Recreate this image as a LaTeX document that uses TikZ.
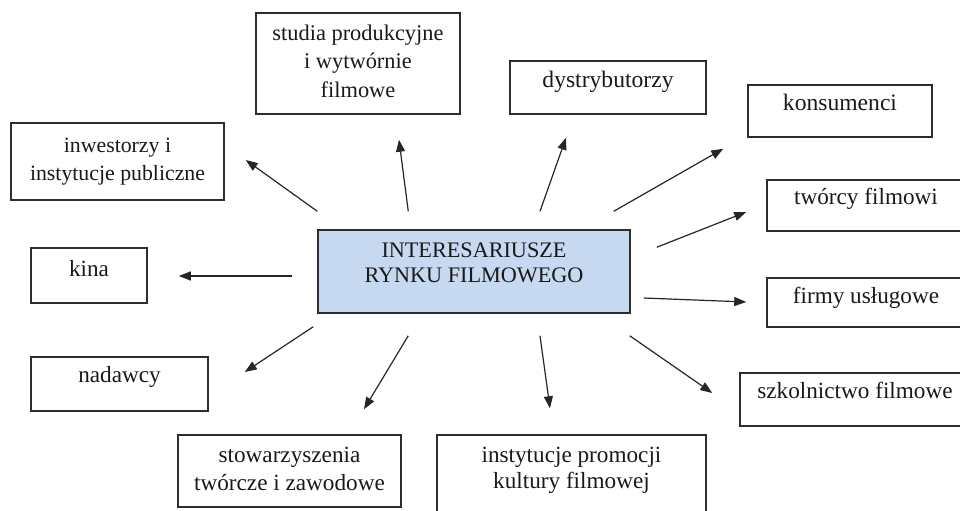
\documentclass[tikz,border=0pt]{standalone}
\usepackage{fontspec}
\setmainfont{Liberation Serif}
\usepackage{tikz}
\usetikzlibrary{positioning}
\usetikzlibrary{arrows.meta}
\usepackage{xcolor}
\definecolor{hubblue}{RGB}{198,217,241}
\definecolor{boxline}{RGB}{45,45,45}

\begin{document}
\begin{tikzpicture}[on grid, >={Triangle[length=6pt,width=4.5pt]},
        every node/.style={font=\fontsize{11.6}{14}\selectfont, text=black!90},
        actor/.style={draw=boxline, line width=0.75pt, align=center, inner sep=0pt},
        link/.style={line width=0.6pt, black!85}]

        \useasboundingbox (0,0) rectangle (480pt,-255pt);
        \clip (0,0) rectangle (480pt,-255pt);

        \node[actor, fill=hubblue, minimum width=156pt, text height=26pt, text depth=15.5pt,
              font=\fontsize{11.1}{12.5}\selectfont] (hub) at (237pt,-135.75pt) {INTERESARIUSZE\\RYNKU FILMOWEGO};

        \node[actor, minimum width=102pt, text height=42pt, text depth=8.5pt, font=\fontsize{11.2}{14.25}\selectfont]
          (studia) [above left=104pt and 58pt of hub] {studia produkcyjne\\i wytwórnie\\filmowe};
        \node[actor, minimum width=98pt, text height=13pt, text depth=13.5pt, font=\fontsize{11.8}{14}\selectfont]
          (dystr) [above right=92pt and 67pt of hub] {dystrybutorzy};
        \node[actor, minimum width=92pt, text height=12.5pt, text depth=13.5pt, font=\fontsize{11.8}{14}\selectfont]
          (konsumenci) [above right=80.25pt and 183pt of hub] {konsumenci};
        \node[actor, minimum width=106.5pt, text height=28.5pt, text depth=10pt, font=\fontsize{10.9}{14}\selectfont]
          (inwestorzy) [above left=55pt and 178.25pt of hub] {inwestorzy i\\instytucje publiczne};
        \node[actor, minimum width=99pt, text height=12pt, text depth=13.5pt]
          (tworcy) [above right=33pt and 196pt of hub] {twórcy filmowi};
        \node[actor, minimum width=58pt, text height=14pt, text depth=13.5pt]
          (kina) [below left=2pt and 192.5pt of hub] {kina};
        \node[actor, minimum width=99pt, text height=12.5pt, text depth=12pt]
          (firmy) [below right=15.5pt and 196pt of hub] {firmy usługowe};
        \node[actor, minimum width=88.5pt, text height=12.5pt, text depth=14.5pt]
          (nadawcy) [below left=56.25pt and 177.25pt of hub] {nadawcy};
        \node[actor, minimum width=115pt, text height=12.5pt, text depth=14pt]
          (szkolnictwo) [below right=64pt and 190.5pt of hub] {szkolnictwo filmowe};
        \node[actor, minimum width=111.5pt, text height=27.5pt, text depth=8.5pt]
          (stowarzyszenia) [below left=99.75pt and 92.25pt of hub] {stowarzyszenia\\twórcze i zawodowe};
        \node[actor, minimum width=134.5pt, text height=26.5pt, text depth=21pt, font=\fontsize{11.6}{13}\selectfont]
          (promocja) [below right=105.5pt and 48.75pt of hub] {instytucje promocji\\kultury filmowej};

        \path[->, link]
          ([yshift=9pt]hub.north west) edge ([xshift=10.5pt, yshift=0.75pt]inwestorzy.east)
          ([xshift=45.5pt, yshift=9pt]hub.north west) edge ([xshift=20.5pt, yshift=-12.5pt]studia.south)
          ([xshift=33pt, yshift=9pt]hub.north) edge ([xshift=-21pt, yshift=-11.5pt]dystr.south)
          ([xshift=-8.5pt, yshift=9pt]hub.north east) edge ([xshift=-12pt, yshift=-5.5pt]konsumenci.south west)
          ([xshift=13pt, yshift=-9pt]hub.north east) edge ([xshift=-10pt, yshift=-3.25pt]tworcy.west)
          ([xshift=-12.5pt, yshift=-2.25pt]hub.west) edge ([xshift=15.5pt, yshift=-0.25pt]kina.east)
          ([xshift=6.5pt, yshift=-13.25pt]hub.east) edge ([xshift=-10pt, yshift=0.25pt]firmy.west)
          ([xshift=-2pt, yshift=-6.5pt]hub.south west) edge ([xshift=18pt, yshift=6pt]nadawcy.east)
          ([xshift=45.5pt, yshift=-11pt]hub.south west) edge ([xshift=37.25pt, yshift=12.5pt]stowarzyszenia.north)
          ([xshift=33pt, yshift=-11pt]hub.south) edge ([xshift=-10.75pt, yshift=13pt]promocja.north)
          ([xshift=-0.5pt, yshift=-11pt]hub.south east) edge ([xshift=-13.5pt, yshift=3.25pt]szkolnictwo.west);

\end{tikzpicture}
\end{document}
